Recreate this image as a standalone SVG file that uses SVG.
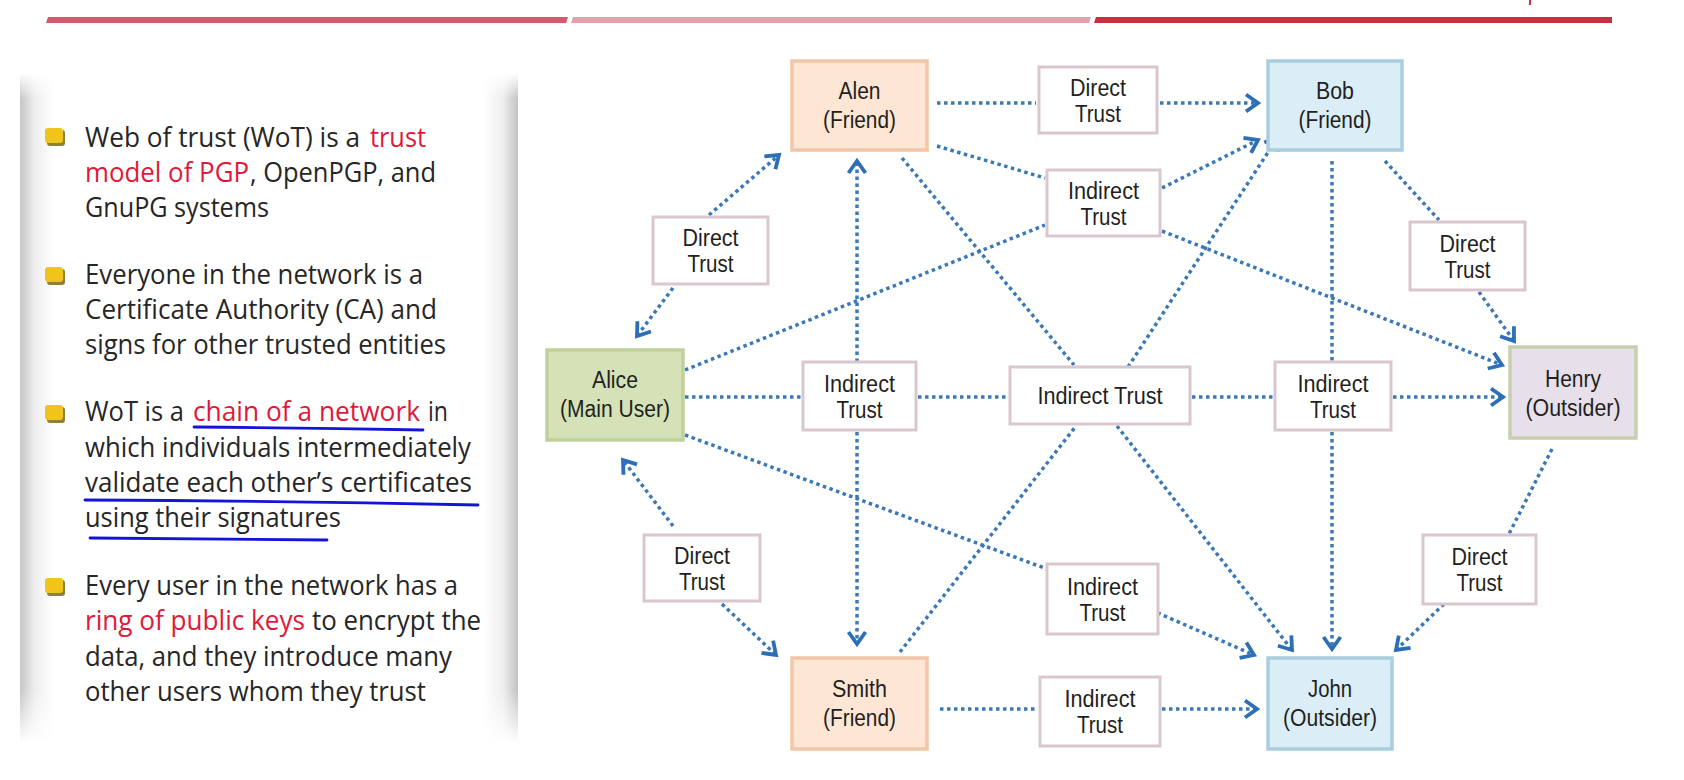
<svg xmlns="http://www.w3.org/2000/svg" width="1684" height="780" viewBox="0 0 1684 780">
<defs>
<style>
.bt{font-family:"Open Sans","Liberation Sans",sans-serif;font-size:27px;fill:#262626}
.red{fill:#e0193a}
.nt{font-family:"Liberation Sans",Arial,sans-serif;font-size:23px;fill:#231f20;text-anchor:middle}
.lb{fill:#ffffff;stroke:#dac7ce;stroke-width:3}
.peach{fill:#fde6d4;stroke:#f2c6a6;stroke-width:3.5}
.blue{fill:#dbedf6;stroke:#a9cedd;stroke-width:3.5}
.green{fill:#d5e2b8;stroke:#bfd09b;stroke-width:3.5}
.lav{fill:#e7e0ea;stroke:#c7cfae;stroke-width:3.5}
.c{fill:none;stroke:#3b78b7;stroke-width:3.5;stroke-dasharray:3.5 3.5}
.a{marker-end:url(#ah)}
.ul{fill:none;stroke:#1414d6;stroke-width:2.8;stroke-linecap:round}
.bul{fill:#f1c41c}
.buls{fill:#8f7f3c}
</style>
<marker id="ah" markerUnits="userSpaceOnUse" markerWidth="26" markerHeight="26" viewBox="-15 -13 19 26" refX="0" refY="0" orient="auto">
<path d="M-12,-8.5 L0,0 L-12,8.5" fill="none" stroke="#2c6fb6" stroke-width="3.8"/>
</marker>
<linearGradient id="pg" x1="0" y1="0" x2="1" y2="0">
<stop offset="0" stop-color="#c6c6c6"/>
<stop offset="0.03" stop-color="#eeeeee"/>
<stop offset="0.07" stop-color="#ffffff"/>
<stop offset="0.93" stop-color="#ffffff"/>
<stop offset="0.97" stop-color="#eeeeee"/>
<stop offset="1" stop-color="#c2c2c2"/>
</linearGradient>
<linearGradient id="fb" x1="0" y1="0" x2="0" y2="1">
<stop offset="0" stop-color="#ffffff" stop-opacity="0"/>
<stop offset="1" stop-color="#ffffff" stop-opacity="1"/>
</linearGradient>
<linearGradient id="ft" x1="0" y1="0" x2="0" y2="1">
<stop offset="0" stop-color="#ffffff" stop-opacity="1"/>
<stop offset="1" stop-color="#ffffff" stop-opacity="0"/>
</linearGradient>
</defs>
<rect width="1684" height="780" fill="#ffffff"/>

<g id="topbar">
<polygon points="48,17 568,17 566,23 46,23" fill="#d45a6b"/>
<polygon points="573,17 1091,17 1089,23 571,23" fill="#dfa3a9"/>
<polygon points="1096,17 1612,17 1612,23 1094,23" fill="#c8303f"/>
<line x1="1530" y1="0" x2="1530" y2="5" stroke="#c8303f" stroke-width="2"/>
</g>

<g id="panel">
<rect x="20" y="75" width="498" height="667" fill="url(#pg)"/>
<rect x="16" y="73" width="506" height="26" fill="url(#ft)"/>
<rect x="16" y="690" width="506" height="54" fill="url(#fb)"/>
</g>

<g id="bullets">
<rect class="buls" x="47" y="130" width="18" height="16" rx="3"/>
<rect class="bul" x="45" y="128" width="18" height="15" rx="3"/>
<rect class="buls" x="47" y="269" width="18" height="16" rx="3"/>
<rect class="bul" x="45" y="267" width="18" height="15" rx="3"/>
<rect class="buls" x="47" y="407" width="18" height="16" rx="3"/>
<rect class="bul" x="45" y="405" width="18" height="15" rx="3"/>
<rect class="buls" x="47" y="580" width="18" height="16" rx="3"/>
<rect class="bul" x="45" y="578" width="18" height="15" rx="3"/>
</g>

<g id="text">
<text class="bt" x="85" y="147" textLength="275" lengthAdjust="spacingAndGlyphs">Web of trust (WoT) is a</text>
<text class="bt red" x="370" y="147" textLength="56" lengthAdjust="spacingAndGlyphs">trust</text>
<text class="bt red" x="85" y="182" textLength="164" lengthAdjust="spacingAndGlyphs">model of PGP</text>
<text class="bt" x="250" y="182" textLength="186" lengthAdjust="spacingAndGlyphs">, OpenPGP, and</text>
<text class="bt" x="85" y="217" textLength="184" lengthAdjust="spacingAndGlyphs">GnuPG systems</text>
<text class="bt" x="85" y="284" textLength="338" lengthAdjust="spacingAndGlyphs">Everyone in the network is a</text>
<text class="bt" x="85" y="319" textLength="352" lengthAdjust="spacingAndGlyphs">Certificate Authority (CA) and</text>
<text class="bt" x="85" y="354" textLength="361" lengthAdjust="spacingAndGlyphs">signs for other trusted entities</text>
<text class="bt" x="85" y="421" textLength="99" lengthAdjust="spacingAndGlyphs">WoT is a</text>
<text class="bt red" x="193" y="421" textLength="227" lengthAdjust="spacingAndGlyphs">chain of a network</text>
<text class="bt" x="428" y="421" textLength="20" lengthAdjust="spacingAndGlyphs">in</text>
<text class="bt" x="85" y="457" textLength="386" lengthAdjust="spacingAndGlyphs">which individuals intermediately</text>
<text class="bt" x="85" y="492" textLength="387" lengthAdjust="spacingAndGlyphs">validate each other’s certificates</text>
<text class="bt" x="85" y="527" textLength="256" lengthAdjust="spacingAndGlyphs">using their signatures</text>
<text class="bt" x="85" y="595" textLength="373" lengthAdjust="spacingAndGlyphs">Every user in the network has a</text>
<text class="bt red" x="85" y="630" textLength="220" lengthAdjust="spacingAndGlyphs">ring of public keys</text>
<text class="bt" x="312" y="630" textLength="169" lengthAdjust="spacingAndGlyphs">to encrypt the</text>
<text class="bt" x="85" y="666" textLength="367" lengthAdjust="spacingAndGlyphs">data, and they introduce many</text>
<text class="bt" x="85" y="701" textLength="341" lengthAdjust="spacingAndGlyphs">other users whom they trust</text>
<path class="ul" d="M194,427 Q310,428 423,430"/>
<path class="ul" d="M85,500 Q280,501 478,505"/>
<path class="ul" d="M90,538 Q210,539 327,540"/>
</g>

<g id="connectors">
<line class="c" x1="937" y1="103" x2="1036" y2="103"/>
<line class="c a" x1="1160" y1="103" x2="1258" y2="103"/>
<line class="c" x1="937" y1="146" x2="1045" y2="178"/>
<line class="c a" x1="1162" y1="188" x2="1258" y2="140"/>
<line class="c a" x1="1162" y1="231" x2="1502" y2="365"/>
<line class="c" x1="685" y1="370" x2="1045" y2="225"/>
<line class="c a" x1="709" y1="215" x2="779" y2="155"/>
<line class="c a" x1="673" y1="288" x2="637" y2="336"/>
<line class="c a" x1="857" y1="362" x2="857" y2="161"/>
<line class="c a" x1="857" y1="432" x2="857" y2="644"/>
<line class="c" x1="685" y1="397" x2="801" y2="397"/>
<line class="c" x1="918" y1="397" x2="1008" y2="397"/>
<line class="c" x1="1192" y1="397" x2="1273" y2="397"/>
<line class="c a" x1="1393" y1="397" x2="1503" y2="397"/>
<line class="c" x1="902" y1="158" x2="1074" y2="365"/>
<line class="c a" x1="1117" y1="426" x2="1292" y2="650"/>
<line class="c" x1="900" y1="652" x2="1076" y2="426"/>
<line class="c a" x1="1128" y1="367" x2="1278" y2="137"/>
<line class="c" x1="1332" y1="161" x2="1332" y2="362"/>
<line class="c a" x1="1332" y1="432" x2="1332" y2="649"/>
<line class="c" x1="1385" y1="161" x2="1439" y2="220"/>
<line class="c a" x1="1479" y1="292" x2="1514" y2="341"/>
<line class="c" x1="1552" y1="449" x2="1509" y2="534"/>
<line class="c a" x1="1444" y1="604" x2="1396" y2="650"/>
<line class="c a" x1="673" y1="526" x2="623" y2="460"/>
<line class="c a" x1="722" y1="604" x2="776" y2="655"/>
<line class="c" x1="685" y1="435" x2="1047" y2="569"/>
<line class="c a" x1="1151" y1="610" x2="1254" y2="655"/>
<line class="c" x1="940" y1="709" x2="1038" y2="709"/>
<line class="c a" x1="1162" y1="709" x2="1257" y2="709"/>
</g>

<g id="alen"><rect class="peach" x="792" y="61" width="135" height="89"/><text class="nt" x="859.5" y="99" textLength="42" lengthAdjust="spacingAndGlyphs">Alen</text><text class="nt" x="859.5" y="128" textLength="73" lengthAdjust="spacingAndGlyphs">(Friend)</text></g>
<g id="bob"><rect class="blue" x="1268" y="61" width="134" height="89"/><text class="nt" x="1335" y="99" textLength="38" lengthAdjust="spacingAndGlyphs">Bob</text><text class="nt" x="1335" y="128" textLength="73" lengthAdjust="spacingAndGlyphs">(Friend)</text></g>
<g id="alice"><rect class="green" x="547" y="350" width="136" height="90"/><text class="nt" x="615" y="388" textLength="46" lengthAdjust="spacingAndGlyphs">Alice</text><text class="nt" x="615" y="417" textLength="110" lengthAdjust="spacingAndGlyphs">(Main User)</text></g>
<g id="henry"><rect class="lav" x="1510" y="347" width="126" height="91"/><text class="nt" x="1573" y="387" textLength="56" lengthAdjust="spacingAndGlyphs">Henry</text><text class="nt" x="1573" y="416" textLength="95" lengthAdjust="spacingAndGlyphs">(Outsider)</text></g>
<g id="smith"><rect class="peach" x="792" y="658" width="135" height="91"/><text class="nt" x="859.5" y="697" textLength="55" lengthAdjust="spacingAndGlyphs">Smith</text><text class="nt" x="859.5" y="726" textLength="73" lengthAdjust="spacingAndGlyphs">(Friend)</text></g>
<g id="john"><rect class="blue" x="1268" y="658" width="124" height="91"/><text class="nt" x="1330" y="697" textLength="44" lengthAdjust="spacingAndGlyphs">John</text><text class="nt" x="1330" y="726" textLength="94" lengthAdjust="spacingAndGlyphs">(Outsider)</text></g>

<g id="dt-top"><rect class="lb" x="1039" y="67" width="118" height="66"/><text class="nt" x="1098" y="96" textLength="56" lengthAdjust="spacingAndGlyphs">Direct</text><text class="nt" x="1098" y="122" textLength="46" lengthAdjust="spacingAndGlyphs">Trust</text></g>
<g id="it-upper"><rect class="lb" x="1047" y="170" width="113" height="66"/><text class="nt" x="1103.5" y="199" textLength="71" lengthAdjust="spacingAndGlyphs">Indirect</text><text class="nt" x="1103.5" y="225" textLength="46" lengthAdjust="spacingAndGlyphs">Trust</text></g>
<g id="dt-left-upper"><rect class="lb" x="653" y="217" width="115" height="67"/><text class="nt" x="710.5" y="246" textLength="56" lengthAdjust="spacingAndGlyphs">Direct</text><text class="nt" x="710.5" y="272" textLength="46" lengthAdjust="spacingAndGlyphs">Trust</text></g>
<g id="dt-right-upper"><rect class="lb" x="1410" y="222" width="115" height="68"/><text class="nt" x="1467.5" y="252" textLength="56" lengthAdjust="spacingAndGlyphs">Direct</text><text class="nt" x="1467.5" y="278" textLength="46" lengthAdjust="spacingAndGlyphs">Trust</text></g>
<g id="it-mid-left"><rect class="lb" x="803" y="362" width="113" height="68"/><text class="nt" x="859.5" y="392" textLength="71" lengthAdjust="spacingAndGlyphs">Indirect</text><text class="nt" x="859.5" y="418" textLength="46" lengthAdjust="spacingAndGlyphs">Trust</text></g>
<g id="it-center"><rect class="lb" x="1010" y="367" width="180" height="57"/><text class="nt" x="1100" y="404" textLength="125" lengthAdjust="spacingAndGlyphs">Indirect Trust</text></g>
<g id="it-mid-right"><rect class="lb" x="1275" y="362" width="116" height="68"/><text class="nt" x="1333" y="392" textLength="71" lengthAdjust="spacingAndGlyphs">Indirect</text><text class="nt" x="1333" y="418" textLength="46" lengthAdjust="spacingAndGlyphs">Trust</text></g>
<g id="dt-left-lower"><rect class="lb" x="644" y="535" width="116" height="66"/><text class="nt" x="702" y="564" textLength="56" lengthAdjust="spacingAndGlyphs">Direct</text><text class="nt" x="702" y="590" textLength="46" lengthAdjust="spacingAndGlyphs">Trust</text></g>
<g id="it-lower"><rect class="lb" x="1047" y="564" width="111" height="70"/><text class="nt" x="1102.5" y="595" textLength="71" lengthAdjust="spacingAndGlyphs">Indirect</text><text class="nt" x="1102.5" y="621" textLength="46" lengthAdjust="spacingAndGlyphs">Trust</text></g>
<g id="dt-right-lower"><rect class="lb" x="1423" y="535" width="113" height="69"/><text class="nt" x="1479.5" y="565" textLength="56" lengthAdjust="spacingAndGlyphs">Direct</text><text class="nt" x="1479.5" y="591" textLength="46" lengthAdjust="spacingAndGlyphs">Trust</text></g>
<g id="it-bottom"><rect class="lb" x="1040" y="677" width="120" height="69"/><text class="nt" x="1100" y="707" textLength="71" lengthAdjust="spacingAndGlyphs">Indirect</text><text class="nt" x="1100" y="733" textLength="46" lengthAdjust="spacingAndGlyphs">Trust</text></g>
</svg>
